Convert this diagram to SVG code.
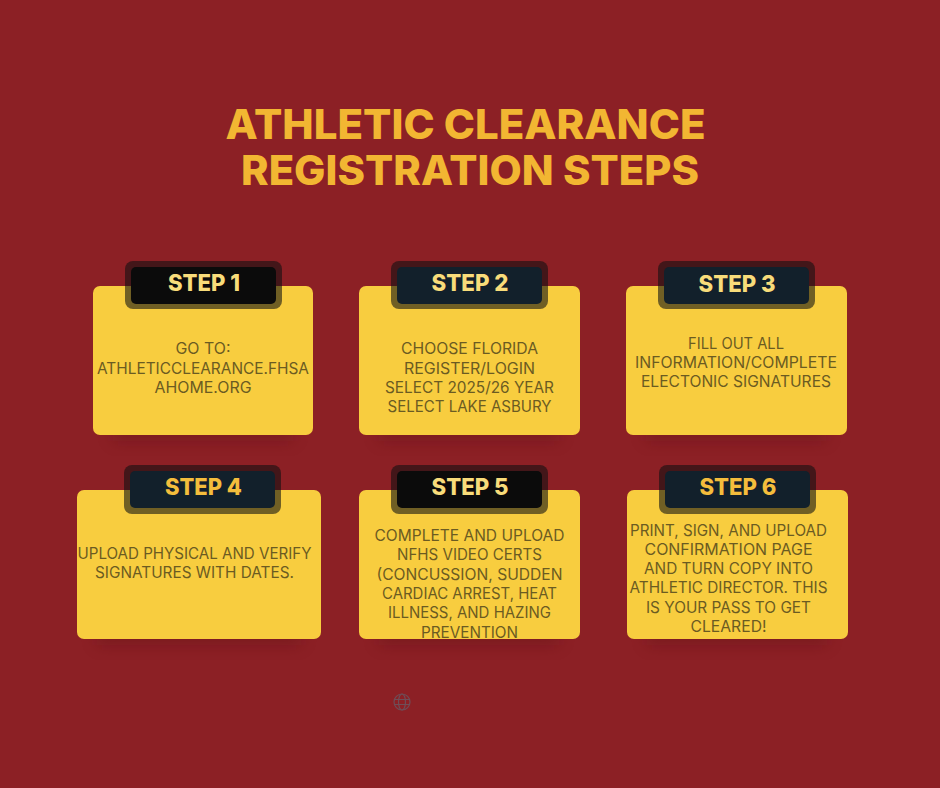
<svg xmlns="http://www.w3.org/2000/svg" width="940" height="788" viewBox="0 0 940 788">
<defs>
<filter id="soft" x="-20%" y="-20%" width="140%" height="160%"><feGaussianBlur stdDeviation="8"/></filter>
</defs>
<style>
.bg{fill:#8c2025}
.title{font-family:Inter,"Open Sans",sans-serif;font-weight:800;font-size:41px;fill:#f2b632;text-anchor:middle}
.card{fill:#f8cd3f}
.shadow{fill:#5a0f14;opacity:.35}
.outer{fill:#0d0f12;fill-opacity:.58}
.inner{fill:#12202b}
.inner.k{fill:#0b0b0b}
.step{font-family:Inter,"Open Sans",sans-serif;font-weight:800;font-size:23px;text-anchor:middle}
.step.a{fill:#f8dc7a}
.step.b{fill:#f4bd3c}
.body{font-family:Inter,"Open Sans",sans-serif;font-weight:400;font-size:15.5px;fill:#6b5b22;text-anchor:middle}
</style>
<rect class="bg" width="940" height="788"/>
<g id="title">
<text class="title" x="465.5" y="139" textLength="480" lengthAdjust="spacingAndGlyphs">ATHLETIC CLEARANCE</text>
<text class="title" x="470" y="185" textLength="458" lengthAdjust="spacingAndGlyphs">REGISTRATION STEPS</text>
</g>
<g id="connectors"></g>
<g id="step1">
<rect class="shadow" x="113" y="405" width="180" height="36" filter="url(#soft)"/>
<rect class="card" x="93" y="286" width="220" height="149" rx="7"/>
<rect class="outer" x="125" y="261" width="157" height="48" rx="8"/>
<rect class="inner k" x="131" y="267" width="145" height="37" rx="5"/>
<text class="step a" x="204" y="291" textLength="72" lengthAdjust="spacingAndGlyphs">STEP 1</text>
<text class="body" x="203" y="354" textLength="55" lengthAdjust="spacingAndGlyphs">GO TO:</text>
<text class="body" x="203" y="374" textLength="212" lengthAdjust="spacingAndGlyphs">ATHLETICCLEARANCE.FHSA</text>
<text class="body" x="203" y="393" textLength="97" lengthAdjust="spacingAndGlyphs">AHOME.ORG</text>
</g>
<g id="step2">
<rect class="shadow" x="379" y="405" width="180" height="36" filter="url(#soft)"/>
<rect class="card" x="359" y="286" width="221" height="149" rx="7"/>
<rect class="outer" x="391" y="261" width="157" height="48" rx="8"/>
<rect class="inner" x="397" y="267" width="145" height="37" rx="5"/>
<text class="step a" x="470" y="291" textLength="77" lengthAdjust="spacingAndGlyphs">STEP 2</text>
<text class="body" x="469.500" y="354" textLength="137" lengthAdjust="spacingAndGlyphs">CHOOSE FLORIDA</text>
<text class="body" x="469.500" y="374" textLength="131" lengthAdjust="spacingAndGlyphs">REGISTER/LOGIN</text>
<text class="body" x="469.500" y="393" textLength="169" lengthAdjust="spacingAndGlyphs">SELECT 2025/26 YEAR</text>
<text class="body" x="469.500" y="412" textLength="164" lengthAdjust="spacingAndGlyphs">SELECT LAKE ASBURY</text>
</g>
<g id="step3">
<rect class="shadow" x="646" y="405" width="180" height="36" filter="url(#soft)"/>
<rect class="card" x="626" y="286" width="221" height="149" rx="7"/>
<rect class="outer" x="658" y="261" width="157" height="48" rx="8"/>
<rect class="inner" x="664" y="267" width="145" height="37" rx="5"/>
<text class="step a" x="737" y="292" textLength="77" lengthAdjust="spacingAndGlyphs">STEP 3</text>
<text class="body" x="736" y="349" textLength="96" lengthAdjust="spacingAndGlyphs">FILL OUT ALL</text>
<text class="body" x="736" y="368" textLength="202" lengthAdjust="spacingAndGlyphs">INFORMATION/COMPLETE</text>
<text class="body" x="736" y="387" textLength="190" lengthAdjust="spacingAndGlyphs">ELECTONIC SIGNATURES</text>
</g>
<g id="step4">
<rect class="shadow" x="97" y="609" width="204" height="36" filter="url(#soft)"/>
<rect class="card" x="77" y="490" width="244" height="149" rx="7"/>
<rect class="outer" x="124" y="465" width="157" height="49" rx="8"/>
<rect class="inner" x="130" y="471" width="145" height="37" rx="5"/>
<text class="step b" x="203.500" y="495" textLength="77" lengthAdjust="spacingAndGlyphs">STEP 4</text>
<text class="body" x="194.500" y="559" textLength="234" lengthAdjust="spacingAndGlyphs">UPLOAD PHYSICAL AND VERIFY</text>
<text class="body" x="194.500" y="578" textLength="199" lengthAdjust="spacingAndGlyphs">SIGNATURES WITH DATES.</text>
</g>
<g id="step5">
<rect class="shadow" x="379" y="609" width="180" height="36" filter="url(#soft)"/>
<rect class="card" x="359" y="490" width="221" height="149" rx="7"/>
<rect class="outer" x="391" y="465" width="157" height="49" rx="8"/>
<rect class="inner k" x="397" y="471" width="145" height="37" rx="5"/>
<text class="step a" x="470" y="495" textLength="77" lengthAdjust="spacingAndGlyphs">STEP 5</text>
<text class="body" x="469.500" y="541" textLength="190" lengthAdjust="spacingAndGlyphs">COMPLETE AND UPLOAD</text>
<text class="body" x="469.500" y="560" textLength="145" lengthAdjust="spacingAndGlyphs">NFHS VIDEO CERTS</text>
<text class="body" x="469.500" y="580" textLength="186" lengthAdjust="spacingAndGlyphs">(CONCUSSION, SUDDEN</text>
<text class="body" x="469.500" y="599" textLength="175" lengthAdjust="spacingAndGlyphs">CARDIAC ARREST, HEAT</text>
<text class="body" x="469.500" y="618" textLength="163" lengthAdjust="spacingAndGlyphs">ILLNESS, AND HAZING</text>
<text class="body" x="469.500" y="638" textLength="97" lengthAdjust="spacingAndGlyphs">PREVENTION</text>
</g>
<g id="step6">
<rect class="shadow" x="647" y="609" width="180" height="36" filter="url(#soft)"/>
<rect class="card" x="627" y="490" width="221" height="149" rx="7"/>
<rect class="outer" x="659" y="465" width="157" height="49" rx="8"/>
<rect class="inner" x="665" y="471" width="145" height="37" rx="5"/>
<text class="step b" x="738" y="495" textLength="77" lengthAdjust="spacingAndGlyphs">STEP 6</text>
<text class="body" x="728.500" y="536" textLength="197" lengthAdjust="spacingAndGlyphs">PRINT, SIGN, AND UPLOAD</text>
<text class="body" x="728.500" y="555" textLength="168" lengthAdjust="spacingAndGlyphs">CONFIRMATION PAGE</text>
<text class="body" x="728.500" y="574" textLength="169" lengthAdjust="spacingAndGlyphs">AND TURN COPY INTO</text>
<text class="body" x="728.500" y="593" textLength="198" lengthAdjust="spacingAndGlyphs">ATHLETIC DIRECTOR. THIS</text>
<text class="body" x="728.500" y="613" textLength="165" lengthAdjust="spacingAndGlyphs">IS YOUR PASS TO GET</text>
<text class="body" x="728.500" y="632" textLength="76" lengthAdjust="spacingAndGlyphs">CLEARED!</text>
</g>
<g id="globe" fill="none" stroke="#6a5560" stroke-width="1.200" opacity=".85">
<circle cx="402" cy="702" r="8"/>
<ellipse cx="402" cy="702" rx="3.500" ry="8"/>
<path d="M394.500 699.500h15M394.500 704.500h15"/>
</g>
</svg>
